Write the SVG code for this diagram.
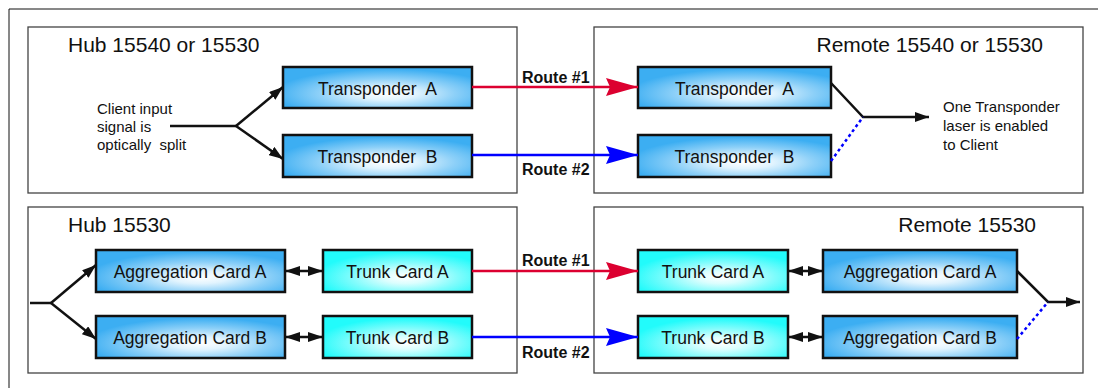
<svg xmlns="http://www.w3.org/2000/svg" width="1098" height="388" viewBox="0 0 1098 388">
<style>
text{font-family:"Liberation Sans",Arial,sans-serif;fill:#111;white-space:pre}
.ttl{font-size:21px}
.lbl{font-size:17.5px;text-anchor:middle}
.sm{font-size:15px}
.rt{font-size:16px;font-weight:bold}
.panel{fill:#fff;stroke:#444;stroke-width:1.3}
.card{stroke:#111;stroke-width:2.5}
.blue{fill:url(#gBlue)}
.cyan{fill:url(#gCyan)}
.blk{stroke:#111;stroke-width:2.5;fill:none}
.red{stroke:#dc0030;stroke-width:2.5;fill:none}
.bl{stroke:#0000ff;stroke-width:2.5;fill:none}
.dot{stroke:#0000ff;stroke-width:2.5;fill:none;stroke-dasharray:3 3}
</style>
<defs>
<radialGradient id="gBlue" cx="0.55" cy="0.65" r="0.6">
<stop offset="0" stop-color="#ffffff"/>
<stop offset="0.25" stop-color="#e2f4fe"/>
<stop offset="0.6" stop-color="#8dd0f8"/>
<stop offset="1" stop-color="#3caef2"/>
</radialGradient>
<radialGradient id="gCyan" cx="0.55" cy="0.65" r="0.6">
<stop offset="0" stop-color="#ffffff"/>
<stop offset="0.25" stop-color="#dcfefe"/>
<stop offset="0.6" stop-color="#80fcfc"/>
<stop offset="1" stop-color="#22fbfb"/>
</radialGradient>
<marker id="ah" markerUnits="userSpaceOnUse" markerWidth="14" markerHeight="10" refX="14" refY="5" orient="auto"><path d="M0,0 L14,5 L0,10 z" fill="#111"/></marker>
<marker id="dh" markerUnits="userSpaceOnUse" markerWidth="15" markerHeight="10" refX="15" refY="5" orient="auto-start-reverse"><path d="M0,0 L15,5 L0,10 z" fill="#111"/></marker>
<marker id="ahR" markerUnits="userSpaceOnUse" markerWidth="32" markerHeight="18" refX="32" refY="9" orient="auto"><path d="M0,0 L32,9 L0,18 L4,9 z" fill="#dc0030"/></marker>
<marker id="ahB" markerUnits="userSpaceOnUse" markerWidth="32" markerHeight="18" refX="32" refY="9" orient="auto"><path d="M0,0 L32,9 L0,18 L4,9 z" fill="#0000ff"/></marker>
</defs>
<rect width="1098" height="388" fill="#fff"/>
<path d="M9,388 V9 H1098" fill="none" stroke="#111" stroke-width="1"/>

<g id="panel-hub-top"><rect class="panel" x="28" y="27" width="489" height="166"/>
<text class="ttl" x="68" y="52">Hub 15540 or 15530</text></g>
<g id="panel-remote-top"><rect class="panel" x="594" y="27" width="489" height="166"/>
<text class="ttl" text-anchor="end" x="1043" y="52">Remote 15540 or 15530</text></g>
<g id="panel-hub-bottom"><rect class="panel" x="28" y="207" width="489" height="166"/>
<text class="ttl" x="68" y="232">Hub 15530</text></g>
<g id="panel-remote-bottom"><rect class="panel" x="594" y="207" width="489" height="166"/>
<text class="ttl" text-anchor="end" x="1036" y="232">Remote 15530</text></g>

<g id="client-input-label">
<text class="sm" x="97" y="114">Client input</text>
<text class="sm" x="97" y="132">signal is</text>
<text class="sm" x="97" y="150">optically  split</text>
</g>
<g id="client-output-label">
<text class="sm" x="943" y="112">One Transponder</text>
<text class="sm" x="943" y="131">laser is enabled</text>
<text class="sm" x="943" y="150">to Client</text>
</g>

<g id="hub-transponder-a"><rect class="card blue" x="283" y="67" width="189" height="41"/>
<text class="lbl" x="377.5" y="95">Transponder  A</text></g>
<g id="hub-transponder-b"><rect class="card blue" x="283" y="135" width="189" height="42"/>
<text class="lbl" x="377.5" y="163">Transponder  B</text></g>
<g id="remote-transponder-a"><rect class="card blue" x="638" y="67" width="193" height="41"/>
<text class="lbl" x="734.5" y="95">Transponder  A</text></g>
<g id="remote-transponder-b"><rect class="card blue" x="638" y="135" width="193" height="42"/>
<text class="lbl" x="734.5" y="163">Transponder  B</text></g>

<g id="hub-aggregation-a"><rect class="card blue" x="96" y="250" width="189" height="42"/>
<text class="lbl" x="190" y="278">Aggregation Card A</text></g>
<g id="hub-aggregation-b"><rect class="card blue" x="96" y="316" width="189" height="42"/>
<text class="lbl" x="190" y="344">Aggregation Card B</text></g>
<g id="hub-trunk-a"><rect class="card cyan" x="323" y="250" width="149" height="42"/>
<text class="lbl" x="397.5" y="278">Trunk Card A</text></g>
<g id="hub-trunk-b"><rect class="card cyan" x="323" y="316" width="149" height="42"/>
<text class="lbl" x="397.5" y="344">Trunk Card B</text></g>
<g id="remote-trunk-a"><rect class="card cyan" x="638" y="250" width="150" height="42"/>
<text class="lbl" x="713" y="278">Trunk Card A</text></g>
<g id="remote-trunk-b"><rect class="card cyan" x="638" y="316" width="150" height="42"/>
<text class="lbl" x="713" y="344">Trunk Card B</text></g>
<g id="remote-aggregation-a"><rect class="card blue" x="823" y="250" width="194" height="42"/>
<text class="lbl" x="920" y="278">Aggregation Card A</text></g>
<g id="remote-aggregation-b"><rect class="card blue" x="823" y="316" width="194" height="42"/>
<text class="lbl" x="920" y="344">Aggregation Card B</text></g>

<g id="connectors">
<path class="blk" d="M170,126 H236"/>
<path class="blk" d="M236,126 L283,87" marker-end="url(#ah)"/>
<path class="blk" d="M236,126 L283,159" marker-end="url(#ah)"/>
<path class="red" d="M472,87 H638" marker-end="url(#ahR)"/>
<path class="bl" d="M472,155 H638" marker-end="url(#ahB)"/>
<text class="rt" x="522" y="83">Route #1</text>
<text class="rt" x="522" y="175">Route #2</text>
<path class="blk" d="M831,83 L863,117 H929" marker-end="url(#ah)"/>
<path class="dot" d="M831,161 L863,117"/>

<path class="blk" d="M30,303 H51"/>
<path class="blk" d="M51,303 L96,265" marker-end="url(#ah)"/>
<path class="blk" d="M51,303 L96,339" marker-end="url(#ah)"/>
<path class="blk" d="M285,271 H323" marker-start="url(#dh)" marker-end="url(#dh)"/>
<path class="blk" d="M285,337 H323" marker-start="url(#dh)" marker-end="url(#dh)"/>
<path class="red" d="M472,271 H638" marker-end="url(#ahR)"/>
<path class="bl" d="M472,337 H638" marker-end="url(#ahB)"/>
<text class="rt" x="522" y="266">Route #1</text>
<text class="rt" x="522" y="358">Route #2</text>
<path class="blk" d="M788,271 H823" marker-start="url(#dh)" marker-end="url(#dh)"/>
<path class="blk" d="M788,337 H823" marker-start="url(#dh)" marker-end="url(#dh)"/>
<path class="blk" d="M1017,271 L1048,302 H1080" marker-end="url(#ah)"/>
<path class="dot" d="M1017,339 L1048,302"/>
</g>
</svg>
